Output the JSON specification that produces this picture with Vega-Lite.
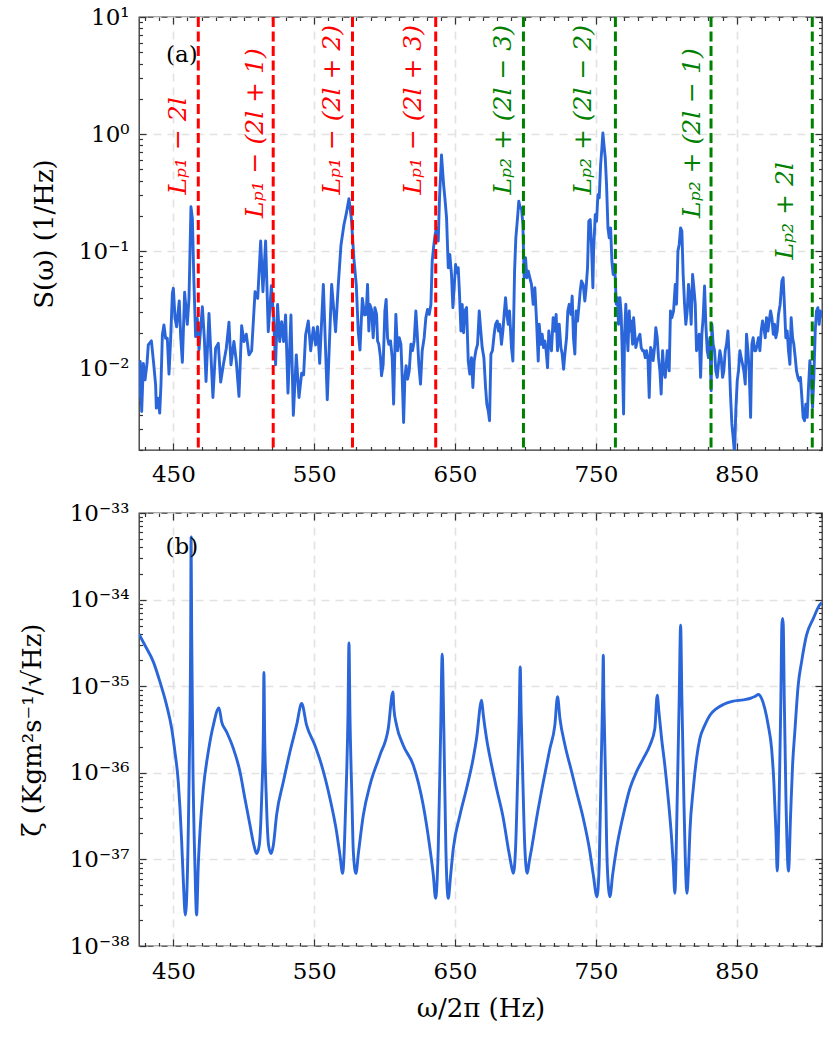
{
  "$schema": "https://vega.github.io/schema/vega-lite/v6.json",
  "padding": {"left": 18, "top": 5, "right": 4, "bottom": 4},
  "background": "white",
  "config": {
    "font": "DejaVu Serif",
    "view": {"stroke": "#333333", "strokeWidth": 1.3},
    "axis": {
      "labelFont": "DejaVu Serif", "titleFont": "DejaVu Serif",
      "labelFontSize": 23, "titleFontSize": 26, "labelColor": "#000000", "titleColor": "#000000",
      "titleFontWeight": "normal", "domain": false, "gridColor": "#e2e2e2", "gridDash": [8, 6], "gridWidth": 1.6,
      "tickColor": "#333333", "tickWidth": 1.2, "labelOverlap": false, "labelFlush": false
    }
  },
  "spacing": 63,
  "bounds": "flush",
  "datasets": {
    "top": [
      {"freq":425.6,"S":0.00555},{"freq":426.5,"S":0.0114},{"freq":427.5,"S":0.00427},{"freq":428.7,"S":0.0110},{"freq":429.9,"S":0.00796},{"freq":431.3,"S":0.0110},{"freq":432.2,"S":0.0158},{"freq":434.4,"S":0.0171},{"freq":436.0,"S":0.0110},{"freq":437.4,"S":0.00721},{"freq":437.9,"S":0.00456},{"freq":439.1,"S":0.00555},{"freq":440.3,"S":0.00413},{"freq":441.2,"S":0.00721},{"freq":442.2,"S":0.0192},{"freq":443.3,"S":0.0234},{"freq":444.5,"S":0.0180},{"freq":445.7,"S":0.0180},{"freq":446.9,"S":0.00889},{"freq":448.1,"S":0.0180},{"freq":449.3,"S":0.0436},{"freq":450.0,"S":0.0481},{"freq":451.2,"S":0.0267},{"freq":452.3,"S":0.0226},{"freq":454.2,"S":0.0375},{"freq":455.2,"S":0.0186},{"freq":456.4,"S":0.0112},{"freq":458.0,"S":0.0445},{"freq":459.9,"S":0.0237},{"freq":461.1,"S":0.0395},{"freq":462.5,"S":0.239},{"freq":463.5,"S":0.190},{"freq":464.6,"S":0.0548},{"freq":465.8,"S":0.0186},{"freq":467.0,"S":0.0267},{"freq":468.2,"S":0.0143},{"freq":470.6,"S":0.0335},{"freq":472.0,"S":0.0180},{"freq":473.2,"S":0.00769},{"freq":475.3,"S":0.0294},{"freq":478.1,"S":0.00562},{"freq":480.0,"S":0.0148},{"freq":481.9,"S":0.0163},{"freq":483.6,"S":0.00760},{"freq":485.5,"S":0.0107},{"freq":487.6,"S":0.0148},{"freq":489.5,"S":0.0247},{"freq":490.9,"S":0.0107},{"freq":493.0,"S":0.0169},{"freq":494.7,"S":0.0114},{"freq":496.6,"S":0.00574},{"freq":498.5,"S":0.0231},{"freq":500.1,"S":0.0169},{"freq":501.8,"S":0.0195},{"freq":503.7,"S":0.0130},{"freq":505.6,"S":0.0141},{"freq":508.0,"S":0.0450},{"freq":509.9,"S":0.0395},{"freq":512.0,"S":0.122},{"freq":513.6,"S":0.0450},{"freq":515.5,"S":0.122},{"freq":517.4,"S":0.0205},{"freq":519.6,"S":0.0507},{"freq":521.2,"S":0.0267},{"freq":522.6,"S":0.0107},{"freq":524.0,"S":0.0351},{"freq":525.5,"S":0.0169},{"freq":526.9,"S":0.0250},{"freq":528.3,"S":0.0169},{"freq":529.7,"S":0.0285},{"freq":531.4,"S":0.00612},{"freq":533.5,"S":0.0285},{"freq":535.2,"S":0.00395},{"freq":537.3,"S":0.0130},{"freq":539.2,"S":0.00562},{"freq":541.1,"S":0.00906},{"freq":542.5,"S":0.00877},{"freq":543.9,"S":0.0192},{"freq":545.8,"S":0.0253},{"freq":547.5,"S":0.0141},{"freq":549.4,"S":0.0222},{"freq":551.0,"S":0.0158},{"freq":552.4,"S":0.0226},{"freq":553.9,"S":0.0110},{"freq":556.5,"S":0.0520},{"freq":559.3,"S":0.00537},{"freq":562.4,"S":0.0520},{"freq":565.2,"S":0.0205},{"freq":567.1,"S":0.0513},{"freq":569.0,"S":0.112},{"freq":571.1,"S":0.167},{"freq":572.8,"S":0.209},{"freq":574.7,"S":0.281},{"freq":576.4,"S":0.190},{"freq":578.2,"S":0.0866},{"freq":579.9,"S":0.0513},{"freq":581.3,"S":0.0205},{"freq":582.5,"S":0.0143},{"freq":584.2,"S":0.0395},{"freq":585.8,"S":0.0285},
      {"freq":586.9,"S":0.0288},{"freq":587.9,"S":0.0520},{"freq":588.8,"S":0.0208},{"freq":589.5,"S":0.0351},{"freq":590.7,"S":0.0318},{"freq":591.9,"S":0.0182},{"freq":593.1,"S":0.0329},{"freq":594.3,"S":0.0288},{"freq":595.0,"S":0.0171},{"freq":595.9,"S":0.0160},{"freq":597.1,"S":0.0123},{"freq":597.8,"S":0.00861},{"freq":599.0,"S":0.0108},{"freq":600.2,"S":0.0308},{"freq":601.1,"S":0.0387},{"freq":602.1,"S":0.0182},{"freq":603.0,"S":0.0160},{"freq":604.2,"S":0.0171},{"freq":605.4,"S":0.0123},{"freq":606.4,"S":0.00493},{"freq":607.3,"S":0.0141},{"freq":608.0,"S":0.0288},{"freq":609.2,"S":0.0141},{"freq":610.4,"S":0.0182},{"freq":611.6,"S":0.0160},{"freq":612.5,"S":0.00832},{"freq":613.5,"S":0.00344},{"freq":614.4,"S":0.00832},{"freq":615.3,"S":0.0105},{"freq":616.3,"S":0.00805},{"freq":617.5,"S":0.00948},{"freq":618.7,"S":0.0160},{"freq":619.8,"S":0.0141},{"freq":621.0,"S":0.0171},{"freq":622.2,"S":0.0308},{"freq":623.2,"S":0.0195},{"freq":624.3,"S":0.0108},{"freq":625.5,"S":0.00730},{"freq":626.7,"S":0.0141},{"freq":628.1,"S":0.0182},{"freq":629.3,"S":0.0270},{"freq":630.5,"S":0.0318},{"freq":631.7,"S":0.0288},{"freq":632.9,"S":0.0351},{"freq":633.8,"S":0.0822},{"freq":635.0,"S":0.114},{"freq":635.9,"S":0.139},{"freq":636.9,"S":0.158},{"freq":638.1,"S":0.122},{"freq":639.0,"S":0.285},{"freq":640.4,"S":0.662},{"freq":641.9,"S":0.370},{"freq":642.8,"S":0.285},{"freq":644.0,"S":0.192},{"freq":645.2,"S":0.0721},{"freq":646.3,"S":0.0936},{"freq":647.5,"S":0.0632},{"freq":648.5,"S":0.0329},{"freq":649.4,"S":0.0486},{"freq":650.4,"S":0.0769},{"freq":651.3,"S":0.0653},{"freq":652.3,"S":0.0721},{"freq":653.2,"S":0.0428},{"freq":654.2,"S":0.0208},{"freq":655.1,"S":0.0351},{"freq":656.1,"S":0.0201},{"freq":657.0,"S":0.0308},{"freq":658.2,"S":0.0329},{"freq":659.4,"S":0.0115},{"freq":660.5,"S":0.00889},{"freq":661.7,"S":0.0123},{"freq":662.7,"S":0.00684},{"freq":663.6,"S":0.0115},{"freq":664.8,"S":0.0141},{"freq":666.0,"S":0.0160},{"freq":667.2,"S":0.0308},{"freq":668.1,"S":0.0222},{"freq":669.3,"S":0.0150},{"freq":670.5,"S":0.0123},{"freq":671.7,"S":0.00684},{"freq":672.6,"S":0.00493},{"freq":673.6,"S":0.00432},{"freq":674.5,"S":0.00356},{"freq":675.5,"S":0.0132},{"freq":676.6,"S":0.0141},{"freq":677.8,"S":0.0195},{"freq":678.8,"S":0.0237},{"freq":680.0,"S":0.0253},{"freq":680.9,"S":0.0208},{"freq":681.8,"S":0.0237},{"freq":683.0,"S":0.0160},{"freq":684.0,"S":0.0208},{"freq":684.9,"S":0.0288},{"freq":685.9,"S":0.0400},{"freq":686.8,"S":0.0288},{"freq":687.8,"S":0.0237},{"freq":688.7,"S":0.0308},{"freq":690.1,"S":0.0150},{"freq":691.1,"S":0.0115},{"freq":692.3,"S":0.0675},{"freq":693.2,"S":0.130},{"freq":694.4,"S":0.192},{"freq":695.3,"S":0.267},{"freq":696.3,"S":0.234},{"freq":697.2,"S":0.234},{"freq":698.2,"S":0.169},{"freq":699.1,"S":0.0593},{"freq":700.1,"S":0.0877},{"freq":701.0,"S":0.0593},{"freq":702.0,"S":0.0675},{"freq":703.1,"S":0.0593},{"freq":704.3,"S":0.0520},{"freq":705.5,"S":0.0351},{"freq":706.7,"S":0.0486},{"freq":707.9,"S":0.0253},{"freq":709.1,"S":0.0115},{"freq":709.8,"S":0.0237},{"freq":711.0,"S":0.0160},{"freq":711.9,"S":0.0195},{"freq":712.9,"S":0.0150},{"freq":713.8,"S":0.0171},{"freq":714.7,"S":0.0141},{"freq":715.7,"S":0.0101},{"freq":716.6,"S":0.0208},{"freq":717.6,"S":0.0160},{"freq":718.5,"S":0.0141},{"freq":719.7,"S":0.0270},{"freq":720.9,"S":0.0208},{"freq":721.8,"S":0.0288},{"freq":722.8,"S":0.0141},{"freq":724.0,"S":0.0237},{"freq":725.2,"S":0.0150},{"freq":726.1,"S":0.0132},{"freq":727.1,"S":0.00980},{"freq":728.0,"S":0.0132},{"freq":729.2,"S":0.0182},{"freq":730.1,"S":0.0308},{"freq":731.1,"S":0.0351},{"freq":732.3,"S":0.0288},{"freq":733.2,"S":0.0413},{"freq":734.1,"S":0.0182},{"freq":735.1,"S":0.0132},{"freq":736.0,"S":0.0308},{"freq":737.0,"S":0.0253},{"freq":737.9,"S":0.0329},{"freq":738.9,"S":0.0456},{"freq":739.8,"S":0.0555},{"freq":741.0,"S":0.0520},{"freq":742.2,"S":0.0375},{"freq":743.1,"S":0.0486},{"freq":744.1,"S":0.0721},{"freq":745.0,"S":0.180},{"freq":746.0,"S":0.186},{"freq":746.9,"S":0.114},{"freq":747.9,"S":0.0486},
      {"freq":748.4,"S":0.100},{"freq":749.6,"S":0.205},{"freq":750.5,"S":0.180},{"freq":751.5,"S":0.304},{"freq":752.4,"S":0.285},{"freq":753.4,"S":0.548},{"freq":754.3,"S":0.760},{"freq":755.0,"S":1.02},{"freq":756.0,"S":0.760},{"freq":756.7,"S":0.625},{"freq":757.6,"S":0.370},{"freq":758.6,"S":0.158},{"freq":759.5,"S":0.130},{"freq":760.5,"S":0.158},{"freq":761.4,"S":0.0822},{"freq":762.3,"S":0.0632},{"freq":763.1,"S":0.0769},{"freq":763.8,"S":0.0593},{"freq":764.5,"S":0.0352},{"freq":765.4,"S":0.0400},{"freq":766.1,"S":0.0237},{"freq":767.1,"S":0.0400},{"freq":768.0,"S":0.0288},{"freq":768.7,"S":0.0141},{"freq":769.7,"S":0.00406},{"freq":770.4,"S":0.0195},{"freq":771.3,"S":0.0352},{"freq":772.0,"S":0.0208},{"freq":772.8,"S":0.0141},{"freq":773.7,"S":0.0308},{"freq":774.4,"S":0.0208},{"freq":775.1,"S":0.0253},{"freq":776.1,"S":0.0160},{"freq":776.8,"S":0.0270},{"freq":777.5,"S":0.0208},{"freq":778.4,"S":0.0150},{"freq":779.4,"S":0.0171},{"freq":780.3,"S":0.0182},{"freq":781.3,"S":0.0195},{"freq":782.2,"S":0.0150},{"freq":783.2,"S":0.0141},{"freq":784.1,"S":0.0141},{"freq":785.1,"S":0.0123},{"freq":786.0,"S":0.0141},{"freq":787.0,"S":0.0123},{"freq":787.9,"S":0.00562},{"freq":788.9,"S":0.0150},{"freq":789.8,"S":0.0141},{"freq":790.7,"S":0.0116},{"freq":791.7,"S":0.0150},{"freq":792.6,"S":0.0222},{"freq":793.6,"S":0.0182},{"freq":794.5,"S":0.0123},{"freq":795.5,"S":0.00948},{"freq":796.4,"S":0.00601},{"freq":797.4,"S":0.0141},{"freq":798.3,"S":0.00948},{"freq":799.3,"S":0.00834},{"freq":800.7,"S":0.0141},{"freq":802.1,"S":0.00948},{"freq":803.0,"S":0.0308},{"freq":804.0,"S":0.0270},{"freq":805.2,"S":0.0308},{"freq":806.4,"S":0.0520},{"freq":807.3,"S":0.0352},{"freq":808.3,"S":0.100},{"freq":809.2,"S":0.114},{"freq":810.2,"S":0.158},{"freq":811.1,"S":0.148},{"freq":812.0,"S":0.0632},{"freq":813.0,"S":0.0352},{"freq":813.9,"S":0.0237},{"freq":814.9,"S":0.0308},{"freq":815.8,"S":0.0520},{"freq":816.8,"S":0.0400},{"freq":817.7,"S":0.0237},{"freq":818.7,"S":0.0632},{"freq":819.6,"S":0.0487},{"freq":820.6,"S":0.0352},{"freq":821.5,"S":0.0141},{"freq":822.5,"S":0.0160},{"freq":823.4,"S":0.0195},{"freq":824.4,"S":0.00834},{"freq":825.3,"S":0.0195},{"freq":826.2,"S":0.0270},{"freq":827.2,"S":0.0504},{"freq":828.1,"S":0.0237},{"freq":829.1,"S":0.0141},{"freq":830.0,"S":0.0123},{"freq":831.0,"S":0.0182},{"freq":831.9,"S":0.00641},{"freq":832.4,"S":0.0237},{"freq":833.3,"S":0.0160},{"freq":834.3,"S":0.0141},{"freq":835.2,"S":0.00948},{"freq":836.2,"S":0.00834},{"freq":837.1,"S":0.0108},{"freq":838.1,"S":0.0141},{"freq":839.0,"S":0.0123},{"freq":840.0,"S":0.00834},{"freq":840.9,"S":0.00948},{"freq":841.9,"S":0.0141},{"freq":842.8,"S":0.0160},{"freq":843.8,"S":0.0208},{"freq":844.7,"S":0.0123},{"freq":845.6,"S":0.00601},{"freq":846.6,"S":0.00334},{"freq":847.5,"S":0.00257},{"freq":848.5,"S":0.00185},{"freq":849.4,"S":0.00432},{"freq":850.4,"S":0.00780},{"freq":851.3,"S":0.00948},{"freq":852.3,"S":0.0141},{"freq":853.2,"S":0.0123},{"freq":854.2,"S":0.0108},{"freq":855.1,"S":0.00948},{"freq":856.1,"S":0.00731},{"freq":857.0,"S":0.0195},{"freq":858.0,"S":0.0141},{"freq":858.9,"S":0.00948},{"freq":859.9,"S":0.00380},{"freq":860.8,"S":0.0160},{"freq":861.7,"S":0.0182},{"freq":862.7,"S":0.0141},{"freq":863.6,"S":0.0141},{"freq":864.6,"S":0.0160},{"freq":865.5,"S":0.0182},{"freq":866.5,"S":0.0141},{"freq":867.4,"S":0.0208},{"freq":868.4,"S":0.0253},{"freq":869.3,"S":0.0222},{"freq":870.3,"S":0.0182},{"freq":871.2,"S":0.0270},{"freq":872.2,"S":0.0208},{"freq":873.1,"S":0.0253},{"freq":874.1,"S":0.0308},{"freq":875.0,"S":0.0270},{"freq":876.0,"S":0.0195},{"freq":876.9,"S":0.0237},{"freq":877.8,"S":0.0182},{"freq":878.8,"S":0.0208},{"freq":879.7,"S":0.0288},{"freq":880.9,"S":0.0352},{"freq":882.1,"S":0.0555},{"freq":883.0,"S":0.0593},{"freq":884.0,"S":0.0329},{"freq":884.9,"S":0.0182},{"freq":885.9,"S":0.0208},{"freq":886.8,"S":0.0141},{"freq":887.8,"S":0.0108},{"freq":888.7,"S":0.0270},{"freq":889.7,"S":0.0182},{"freq":890.6,"S":0.0160},{"freq":891.6,"S":0.0123},{"freq":892.5,"S":0.00948},{"freq":893.5,"S":0.00834},{"freq":894.4,"S":0.00780},{"freq":895.3,"S":0.00834},{"freq":896.3,"S":0.00562},{"freq":897.2,"S":0.00380},{"freq":898.2,"S":0.00356},{"freq":899.1,"S":0.00493},{"freq":900.1,"S":0.00380},{"freq":901.0,"S":0.00684},{"freq":902.0,"S":0.0116},{"freq":902.9,"S":0.00834},{"freq":903.9,"S":0.00462},{"freq":904.8,"S":0.00834},{"freq":905.8,"S":0.0208},{"freq":906.7,"S":0.0308},{"freq":907.7,"S":0.0329},{"freq":908.6,"S":0.0237},{"freq":909.5,"S":0.0308},{"freq":910.5,"S":0.0270}
    ],
    "bottom": [
      {"freq":425.6,"zeta":4.0e-35},{"freq":429.8,"zeta":2.97e-35},{"freq":435.8,"zeta":1.91e-35},{"freq":440.5,"zeta":1.12e-35},{"freq":445.2,"zeta":6.04e-36},{"freq":448.8,"zeta":3.25e-36},{"freq":451.1,"zeta":1.75e-36},{"freq":453.5,"zeta":7.87e-37},{"freq":454.7,"zeta":3.88e-37},{"freq":455.9,"zeta":1.60e-37},{"freq":457.1,"zeta":5.52e-38},{"freq":458.5,"zeta":2.28e-38},{"freq":461.3,"zeta":1.22e-36},{"freq":462.3,"zeta":4.24e-35},{"freq":462.6,"zeta":5.28e-34},{"freq":463.0,"zeta":4.24e-35},{"freq":463.9,"zeta":1.22e-36},{"freq":465.3,"zeta":8.6e-38},{"freq":466.5,"zeta":2.28e-38},{"freq":467.7,"zeta":8.6e-38},{"freq":468.9,"zeta":2.08e-37},{"freq":471.3,"zeta":6.59e-37},{"freq":474.8,"zeta":1.75e-36},{"freq":478.4,"zeta":3.55e-36},{"freq":482.4,"zeta":5.62e-36},{"freq":484.3,"zeta":3.88e-36},{"freq":487.8,"zeta":2.97e-36},{"freq":492.6,"zeta":1.91e-36},{"freq":497.3,"zeta":1.03e-36},{"freq":500.8,"zeta":5.06e-37},{"freq":504.4,"zeta":2.49e-37},{"freq":507.2,"zeta":1.46e-37},{"freq":509.1,"zeta":1.17e-37},{"freq":511.0,"zeta":1.46e-37},{"freq":512.7,"zeta":5.06e-37},{"freq":513.9,"zeta":2.97e-36},{"freq":514.3,"zeta":1.44e-35},{"freq":514.8,"zeta":2.97e-36},{"freq":516.0,"zeta":5.06e-37},{"freq":517.6,"zeta":1.46e-37},{"freq":519.3,"zeta":1.17e-37},{"freq":521.0,"zeta":1.46e-37},{"freq":523.3,"zeta":3.25e-37},{"freq":528.1,"zeta":7.87e-37},{"freq":532.8,"zeta":1.75e-36},{"freq":537.5,"zeta":3.55e-36},{"freq":541.1,"zeta":6.31e-36},{"freq":544.6,"zeta":3.55e-36},{"freq":550.5,"zeta":2.08e-36},{"freq":555.3,"zeta":1.22e-36},{"freq":561.2,"zeta":5.06e-37},{"freq":565.9,"zeta":2.08e-37},{"freq":568.3,"zeta":1.12e-37},{"freq":570.2,"zeta":6.89e-38},{"freq":572.5,"zeta":5.06e-37},{"freq":574.0,"zeta":4.62e-36},{"freq":574.7,"zeta":3.16e-35},{"freq":575.4,"zeta":4.62e-36},{"freq":576.8,"zeta":5.06e-37},{"freq":577.8,"zeta":1.22e-37},{"freq":579.6,"zeta":6.89e-38},{"freq":581.5,"zeta":1.22e-37},{"freq":584.9,"zeta":3.25e-37},{"freq":589.6,"zeta":7.21e-37},{"freq":596.7,"zeta":1.60e-36},{"freq":602.6,"zeta":3.25e-36},{"freq":605.9,"zeta":8.61e-36},{"freq":606.6,"zeta":5.52e-36},{"freq":608.5,"zeta":3.55e-36},{"freq":613.2,"zeta":2.08e-36},{"freq":620.4,"zeta":1.22e-36},{"freq":627.4,"zeta":4.24e-37},{"freq":632.2,"zeta":1.34e-37},{"freq":634.6,"zeta":6.59e-38},{"freq":636.2,"zeta":3.55e-38},{"freq":638.1,"zeta":1.34e-37},{"freq":639.8,"zeta":2.97e-36},{"freq":640.9,"zeta":2.34e-35},{"freq":642.1,"zeta":2.97e-36},{"freq":643.5,"zeta":1.34e-37},{"freq":645.2,"zeta":3.55e-38},{"freq":646.9,"zeta":6.59e-38},{"freq":648.8,"zeta":1.34e-37},{"freq":653.5,"zeta":3.25e-37},{"freq":658.2,"zeta":6.59e-37},{"freq":662.9,"zeta":1.46e-36},{"freq":665.3,"zeta":2.49e-36},{"freq":668.9,"zeta":6.89e-36},{"freq":670.1,"zeta":4.62e-36},{"freq":672.4,"zeta":2.49e-36},{"freq":676.0,"zeta":1.22e-36},{"freq":679.5,"zeta":6.59e-37},{"freq":684.3,"zeta":2.97e-37},{"freq":687.8,"zeta":1.34e-37},{"freq":689.5,"zeta":9.4e-38},{"freq":691.4,"zeta":6.89e-38},{"freq":693.0,"zeta":1.34e-37},{"freq":694.4,"zeta":7.87e-37},{"freq":695.6,"zeta":4.62e-36},{"freq":696.3,"zeta":1.67e-35},{"freq":697.0,"zeta":4.62e-36},{"freq":698.2,"zeta":7.87e-37},{"freq":699.6,"zeta":1.34e-37},{"freq":701.3,"zeta":6.89e-38},{"freq":702.7,"zeta":9.4e-38},{"freq":704.4,"zeta":1.34e-37},{"freq":707.9,"zeta":2.97e-37},{"freq":712.7,"zeta":7.87e-37},{"freq":717.4,"zeta":1.91e-36},{"freq":720.9,"zeta":3.55e-36},{"freq":722.8,"zeta":7.54e-36},{"freq":724.5,"zeta":4.24e-36},{"freq":728.1,"zeta":2.08e-36},{"freq":732.8,"zeta":1.03e-36},{"freq":736.3,"zeta":6.04e-37},{"freq":741.1,"zeta":2.97e-37},{"freq":745.8,"zeta":1.22e-37},{"freq":748.2,"zeta":6.59e-38},{"freq":750.8,"zeta":3.71e-38},{"freq":752.4,"zeta":8.6e-38},{"freq":753.8,"zeta":1.22e-36},{"freq":754.8,"zeta":7.21e-36},{"freq":755.3,"zeta":2.28e-35},{"freq":755.7,"zeta":7.21e-36},{"freq":756.7,"zeta":1.22e-36},{"freq":758.1,"zeta":8.6e-38},{"freq":760.0,"zeta":3.71e-38},{"freq":761.9,"zeta":6.59e-38},{"freq":764.7,"zeta":1.34e-37},{"freq":769.5,"zeta":3.25e-37},{"freq":774.2,"zeta":6.59e-37},{"freq":778.9,"zeta":1.03e-36},{"freq":783.7,"zeta":1.46e-36},{"freq":788.4,"zeta":2.08e-36},{"freq":791.9,"zeta":3.25e-36},{"freq":793.6,"zeta":7.87e-36},{"freq":794.8,"zeta":5.06e-36},{"freq":796.7,"zeta":2.49e-36},{"freq":799.0,"zeta":1.22e-36},{"freq":801.4,"zeta":5.06e-37},{"freq":803.8,"zeta":1.75e-37},{"freq":805.0,"zeta":8.6e-38},{"freq":806.1,"zeta":4.06e-38},{"freq":807.8,"zeta":5.06e-37},{"freq":809.2,"zeta":7.21e-36},{"freq":810.2,"zeta":5.06e-35},{"freq":811.1,"zeta":7.21e-36},{"freq":812.5,"zeta":5.06e-37},{"freq":814.7,"zeta":4.06e-38},{"freq":815.9,"zeta":8.6e-38},{"freq":816.8,"zeta":2.08e-37},{"freq":819.2,"zeta":6.59e-37},{"freq":821.5,"zeta":1.46e-36},{"freq":823.9,"zeta":2.49e-36},{"freq":827.4,"zeta":3.55e-36},{"freq":831.0,"zeta":4.62e-36},{"freq":835.7,"zeta":5.52e-36},{"freq":840.5,"zeta":6.14e-36},{"freq":847.6,"zeta":6.71e-36},{"freq":854.7,"zeta":6.95e-36},{"freq":859.4,"zeta":7.21e-36},{"freq":862.9,"zeta":7.60e-36},{"freq":865.5,"zeta":8.02e-36},{"freq":867.7,"zeta":7.21e-36},{"freq":870.0,"zeta":5.52e-36},{"freq":872.4,"zeta":3.55e-36},{"freq":874.8,"zeta":1.91e-36},{"freq":876.4,"zeta":7.87e-37},{"freq":877.9,"zeta":2.08e-37},{"freq":878.8,"zeta":7.33e-38},{"freq":880.2,"zeta":5.06e-37},{"freq":881.4,"zeta":7.21e-36},{"freq":882.1,"zeta":5.06e-35},{"freq":882.6,"zeta":6.04e-35},{"freq":883.1,"zeta":5.06e-35},{"freq":883.8,"zeta":7.21e-36},{"freq":885.0,"zeta":5.06e-37},{"freq":886.8,"zeta":7.33e-38},{"freq":888.3,"zeta":3.25e-37},{"freq":889.7,"zeta":1.22e-36},{"freq":891.3,"zeta":2.97e-36},{"freq":893.7,"zeta":1.03e-35},{"freq":896.1,"zeta":1.91e-35},{"freq":899.6,"zeta":3.88e-35},{"freq":904.4,"zeta":6.04e-35},{"freq":909.1,"zeta":8.75e-35},{"freq":910.5,"zeta":9.23e-35}
    ],
    "rules": [
      {"freq":467.7,"grp":"p1"},{"freq":520.9,"grp":"p1"},{"freq":577.2,"grp":"p1"},{"freq":636.3,"grp":"p1"},
      {"freq":698.6,"grp":"p2"},{"freq":763.9,"grp":"p2"},{"freq":831.8,"grp":"p2"},{"freq":903.7,"grp":"p2"}
    ],
    "notes": [
      {"freq":453.3,"S":0.304,"grp":"p1","label":"Lₚ₁ − 2l"},
      {"freq":507.9,"S":0.192,"grp":"p1","label":"Lₚ₁ − (2l + 1)"},
      {"freq":562.4,"S":0.304,"grp":"p1","label":"Lₚ₁ − (2l + 2)"},
      {"freq":620.1,"S":0.304,"grp":"p1","label":"Lₚ₁ − (2l + 3)"},
      {"freq":684.2,"S":0.304,"grp":"p2","label":"Lₚ₂ + (2l − 3)"},
      {"freq":741.0,"S":0.304,"grp":"p2","label":"Lₚ₂ + (2l − 2)"},
      {"freq":818.0,"S":0.192,"grp":"p2","label":"Lₚ₂ + (2l − 1)"},
      {"freq":884.2,"S":0.0848,"grp":"p2","label":"Lₚ₂ + 2l"}
    ]
  },
  "vconcat": [
    {
      "width": 683, "height": 433,
      "data": {"name": "top"},
      "layer": [
        {
          "mark": {"type": "line", "color": "#2a66d9", "strokeWidth": 2.9, "clip": true, "strokeJoin": "round"},
          "encoding": {
            "x": {"field": "freq", "type": "quantitative", "scale": {"domain": [425.6, 910.6], "nice": false, "zero": false},
              "axis": {"orient": "bottom", "values": [450, 550, 650, 750, 850], "ticks": false, "grid": true, "title": null, "labelPadding": 13,
                "labelFont": "DejaVu Serif", "labelFontSize": 23, "labelColor": "#000000"}},
            "y": {"field": "S", "type": "quantitative", "scale": {"type": "log", "domain": [0.002, 10], "nice": false},
              "axis": {"orient": "left", "values": [0.01, 0.1, 1, 10], "ticks": false, "grid": true, "labelPadding": 10,
                "labelFont": "DejaVu Serif", "labelFontSize": 23, "labelColor": "#000000",
                "labelExpr": "datum.value >= 5 ? '10¹' : datum.value >= 0.5 ? '10⁰' : datum.value >= 0.05 ? '10⁻¹' : '10⁻²'",
                "title": "S(ω) (1/Hz)", "titleFont": "DejaVu Serif", "titleFontSize": 26, "titleFontWeight": "normal", "titleColor": "#000000",
                "titleX": -95, "titleBaseline": "middle"}}
          }
        },
        {
          "mark": {"type": "line", "opacity": 0},
          "encoding": {
            "x": {"field": "freq", "type": "quantitative", "axis": {"orient": "bottom", "values": [450, 550, 650, 750, 850], "labels": false, "grid": false, "tickSize": 7, "offset": -7, "title": null}},
            "y": {"field": "S", "type": "quantitative", "axis": {"orient": "left", "values": [0.01, 0.1, 1, 10], "labels": false, "grid": false, "tickSize": 7, "offset": -7, "title": null}}
          }
        },
        {
          "mark": {"type": "line", "opacity": 0},
          "encoding": {
            "x": {"field": "freq", "type": "quantitative", "axis": {"orient": "bottom", "values": [430,440,460,470,480,490,500,510,520,530,540,560,570,580,590,600,610,620,630,640,660,670,680,690,700,710,720,730,740,760,770,780,790,800,810,820,830,840,860,870,880,890,900,910], "labels": false, "grid": false, "tickSize": 3.5, "offset": -3.5, "title": null}},
            "y": {"field": "S", "type": "quantitative", "axis": {"orient": "left", "values": [0.002,0.003,0.004,0.005,0.006,0.007,0.008,0.009,0.02,0.03,0.04,0.05,0.06,0.07,0.08,0.09,0.2,0.3,0.4,0.5,0.6,0.7,0.8,0.9,2,3,4,5,6,7,8,9], "labels": false, "grid": false, "tickSize": 3.5, "offset": -3.5, "title": null}}
          }
        },
        {
          "mark": {"type": "line", "opacity": 0},
          "encoding": {
            "x": {"field": "freq", "type": "quantitative", "axis": {"orient": "top", "values": [450, 550, 650, 750, 850], "labels": false, "grid": false, "tickSize": 7, "offset": -7, "title": null}},
            "y": {"field": "S", "type": "quantitative", "axis": {"orient": "right", "values": [0.01, 0.1, 1, 10], "labels": false, "grid": false, "tickSize": 7, "offset": -7, "title": null}}
          }
        },
        {
          "mark": {"type": "line", "opacity": 0},
          "encoding": {
            "x": {"field": "freq", "type": "quantitative", "axis": {"orient": "top", "values": [430,440,460,470,480,490,500,510,520,530,540,560,570,580,590,600,610,620,630,640,660,670,680,690,700,710,720,730,740,760,770,780,790,800,810,820,830,840,860,870,880,890,900,910], "labels": false, "grid": false, "tickSize": 3.5, "offset": -3.5, "title": null}},
            "y": {"field": "S", "type": "quantitative", "axis": {"orient": "right", "values": [0.002,0.003,0.004,0.005,0.006,0.007,0.008,0.009,0.02,0.03,0.04,0.05,0.06,0.07,0.08,0.09,0.2,0.3,0.4,0.5,0.6,0.7,0.8,0.9,2,3,4,5,6,7,8,9], "labels": false, "grid": false, "tickSize": 3.5, "offset": -3.5, "title": null}}
          }
        },
        {
          "data": {"name": "rules"},
          "mark": {"type": "rule", "strokeWidth": 3, "strokeDash": [10, 4.5]},
          "encoding": {
            "x": {"field": "freq", "type": "quantitative", "axis": null},
            "color": {"field": "grp", "type": "nominal", "scale": {"domain": ["p1", "p2"], "range": ["#ff0000", "#008000"]}, "legend": null}
          }
        },
        {
          "data": {"name": "notes"},
          "mark": {"type": "text", "angle": 270, "align": "left", "baseline": "middle", "fontSize": 25, "fontStyle": "italic", "font": "DejaVu Serif"},
          "encoding": {
            "x": {"field": "freq", "type": "quantitative", "axis": null},
            "y": {"field": "S", "type": "quantitative", "axis": null},
            "text": {"field": "label"},
            "color": {"field": "grp", "type": "nominal", "legend": null}
          }
        },
        {
          "data": {"values": [{"freq": 456.1, "S": 4.71, "label": "(a)"}]},
          "mark": {"type": "text", "align": "center", "baseline": "middle", "fontSize": 23, "color": "#000000", "font": "DejaVu Serif"},
          "encoding": {
            "x": {"field": "freq", "type": "quantitative", "axis": null},
            "y": {"field": "S", "type": "quantitative", "axis": null},
            "text": {"field": "label"}
          }
        }
      ],
      "resolve": {"axis": {"x": "independent", "y": "independent"}}
    },
    {
      "width": 683, "height": 433,
      "data": {"name": "bottom"},
      "layer": [
        {
          "mark": {"type": "line", "color": "#2a66d9", "strokeWidth": 2.9, "clip": true, "strokeJoin": "round", "interpolate": "monotone"},
          "encoding": {
            "x": {"field": "freq", "type": "quantitative", "scale": {"domain": [425.6, 910.6], "nice": false, "zero": false},
              "axis": {"orient": "bottom", "values": [450, 550, 650, 750, 850], "ticks": false, "grid": true, "labelPadding": 14,
                "labelFont": "DejaVu Serif", "labelFontSize": 23, "labelColor": "#000000",
                "title": "ω/2π (Hz)", "titleFont": "DejaVu Serif", "titleFontSize": 26, "titleFontWeight": "normal", "titleColor": "#000000",
                "titleY": 62, "titleBaseline": "middle"}},
            "y": {"field": "zeta", "type": "quantitative", "scale": {"type": "log", "domain": [1e-38, 1e-33], "nice": false},
              "axis": {"orient": "left", "values": [1e-38, 1e-37, 1e-36, 1e-35, 1e-34, 1e-33], "ticks": false, "grid": true, "labelPadding": 10,
                "labelFont": "DejaVu Serif", "labelFontSize": 23, "labelColor": "#000000",
                "labelExpr": "datum.value > 5e-34 ? '10⁻³³' : datum.value > 5e-35 ? '10⁻³⁴' : datum.value > 5e-36 ? '10⁻³⁵' : datum.value > 5e-37 ? '10⁻³⁶' : datum.value > 5e-38 ? '10⁻³⁷' : '10⁻³⁸'",
                "title": "ζ (Kgm²s⁻¹/√Hz)", "titleFont": "DejaVu Serif", "titleFontSize": 26, "titleFontWeight": "normal", "titleColor": "#000000",
                "titleX": -107, "titleBaseline": "middle"}}
          }
        },
        {
          "mark": {"type": "line", "opacity": 0},
          "encoding": {
            "x": {"field": "freq", "type": "quantitative", "axis": {"orient": "bottom", "values": [450, 550, 650, 750, 850], "labels": false, "grid": false, "tickSize": 7, "offset": -7, "title": null}},
            "y": {"field": "zeta", "type": "quantitative", "axis": {"orient": "left", "values": [1e-38, 1e-37, 1e-36, 1e-35, 1e-34, 1e-33], "labels": false, "grid": false, "tickSize": 7, "offset": -7, "title": null}}
          }
        },
        {
          "mark": {"type": "line", "opacity": 0},
          "encoding": {
            "x": {"field": "freq", "type": "quantitative", "axis": {"orient": "bottom", "values": [430,440,460,470,480,490,500,510,520,530,540,560,570,580,590,600,610,620,630,640,660,670,680,690,700,710,720,730,740,760,770,780,790,800,810,820,830,840,860,870,880,890,900,910], "labels": false, "grid": false, "tickSize": 3.5, "offset": -3.5, "title": null}},
            "y": {"field": "zeta", "type": "quantitative", "axis": {"orient": "left", "values": [2e-38,3e-38,4e-38,5e-38,6e-38,7e-38,8e-38,9e-38,2e-37,3e-37,4e-37,5e-37,6e-37,7e-37,8e-37,9e-37,2e-36,3e-36,4e-36,5e-36,6e-36,7e-36,8e-36,9e-36,2e-35,3e-35,4e-35,5e-35,6e-35,7e-35,8e-35,9e-35,2e-34,3e-34,4e-34,5e-34,6e-34,7e-34,8e-34,9e-34], "labels": false, "grid": false, "tickSize": 3.5, "offset": -3.5, "title": null}}
          }
        },
        {
          "mark": {"type": "line", "opacity": 0},
          "encoding": {
            "x": {"field": "freq", "type": "quantitative", "axis": {"orient": "top", "values": [450, 550, 650, 750, 850], "labels": false, "grid": false, "tickSize": 7, "offset": -7, "title": null}},
            "y": {"field": "zeta", "type": "quantitative", "axis": {"orient": "right", "values": [1e-38, 1e-37, 1e-36, 1e-35, 1e-34, 1e-33], "labels": false, "grid": false, "tickSize": 7, "offset": -7, "title": null}}
          }
        },
        {
          "mark": {"type": "line", "opacity": 0},
          "encoding": {
            "x": {"field": "freq", "type": "quantitative", "axis": {"orient": "top", "values": [430,440,460,470,480,490,500,510,520,530,540,560,570,580,590,600,610,620,630,640,660,670,680,690,700,710,720,730,740,760,770,780,790,800,810,820,830,840,860,870,880,890,900,910], "labels": false, "grid": false, "tickSize": 3.5, "offset": -3.5, "title": null}},
            "y": {"field": "zeta", "type": "quantitative", "axis": {"orient": "right", "values": [2e-38,3e-38,4e-38,5e-38,6e-38,7e-38,8e-38,9e-38,2e-37,3e-37,4e-37,5e-37,6e-37,7e-37,8e-37,9e-37,2e-36,3e-36,4e-36,5e-36,6e-36,7e-36,8e-36,9e-36,2e-35,3e-35,4e-35,5e-35,6e-35,7e-35,8e-35,9e-35,2e-34,3e-34,4e-34,5e-34,6e-34,7e-34,8e-34,9e-34], "labels": false, "grid": false, "tickSize": 3.5, "offset": -3.5, "title": null}}
          }
        },
        {
          "data": {"values": [{"freq": 456.1, "zeta": 4.08e-34, "label": "(b)"}]},
          "mark": {"type": "text", "align": "center", "baseline": "middle", "fontSize": 23, "color": "#000000", "font": "DejaVu Serif"},
          "encoding": {
            "x": {"field": "freq", "type": "quantitative", "axis": null},
            "y": {"field": "zeta", "type": "quantitative", "axis": null},
            "text": {"field": "label"}
          }
        }
      ],
      "resolve": {"axis": {"x": "independent", "y": "independent"}}
    }
  ]
}
